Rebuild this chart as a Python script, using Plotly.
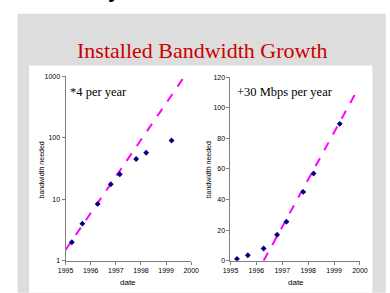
import plotly.graph_objects as go

W, H = 390, 293

dates = [1995.25, 1995.67, 1996.28, 1996.8, 1997.16, 1997.81, 1998.21, 1999.22]
bw_left = [2, 4, 8.4, 17.5, 25.5, 45, 57, 90]
bw_right = [1.2, 3.6, 8, 17, 25.5, 45, 57, 89.5]

fit_left_x = [1995, 1999.74]
fit_left_y = [1.5, 1000]
fit_right_x = [1996.28, 1999.96]
fit_right_y = [0, 113.5]

x_ticks = [1995, 1996, 1997, 1998, 1999, 2000]

def px(v):
    return v / W

def py(v):
    return 1 - v / H

fig = go.Figure()

mk = dict(symbol="diamond", size=4.5, color="#000080")
ln = dict(color="#FF00FF", width=2, dash="dash")

fig.add_trace(go.Scatter(x=fit_left_x, y=fit_left_y, mode="lines", line=ln, xaxis="x", yaxis="y", showlegend=False))
fig.add_trace(go.Scatter(x=dates, y=bw_left, mode="markers", marker=mk, xaxis="x", yaxis="y", showlegend=False))
fig.add_trace(go.Scatter(x=fit_right_x, y=fit_right_y, mode="lines", line=ln, xaxis="x2", yaxis="y2", showlegend=False, cliponaxis=False))
fig.add_trace(go.Scatter(x=dates, y=bw_right, mode="markers", marker=mk, xaxis="x2", yaxis="y2", showlegend=False))

tickfont = dict(family="Liberation Sans, Arial", size=7, color="#000000")
axcommon = dict(showline=True, linecolor="#808080", linewidth=1, ticks="outside",
                ticklen=3, tickcolor="#808080", showgrid=False, zeroline=False,
                tickfont=tickfont)

fig.update_layout(
    width=W, height=H,
    margin=dict(l=0, r=0, t=0, b=0),
    paper_bgcolor="white", plot_bgcolor="rgba(0,0,0,0)",
    hovermode=False,
    xaxis=dict(domain=[px(60), px(191)], range=[1995, 2000], tickvals=x_ticks, anchor="y", **axcommon),
    yaxis=dict(domain=[py(263), py(74)], type="log", range=[0, 3], tickvals=[1, 10, 100, 1000],
               ticktext=["1", "10", "100", "1000"], anchor="x", **axcommon),
    xaxis2=dict(domain=[px(232), px(367)], range=[1995, 2000], tickvals=x_ticks, anchor="y2", **axcommon),
    yaxis2=dict(domain=[py(263), py(75)], range=[0, 120], dtick=20, anchor="x2", **axcommon),
    shapes=[
        dict(type="rect", xref="paper", yref="paper", x0=px(10), x1=1.01, y0=-0.01, y1=py(10),
             fillcolor="#DDDDDD", line=dict(width=0), layer="below"),
        dict(type="rect", xref="paper", yref="paper", x0=px(22), x1=px(380), y0=-0.01, y1=py(63),
             fillcolor="#FFFFFF", line=dict(width=0), layer="below"),
    ],
)

serif = "Liberation Serif, Times New Roman"
sans = "Liberation Sans, Arial"
ann = []
ann.append(dict(text="Installed Bandwidth Growth", x=px(203), y=py(48), xref="paper", yref="paper",
                xanchor="center", yanchor="middle",
                showarrow=False, font=dict(family=serif, size=22, color="#CC0000")))
ann.append(dict(text="<b>y</b>", x=px(111), y=py(-0.5), xref="paper", yref="paper", xanchor="center", yanchor="bottom",
                showarrow=False, font=dict(family=sans, size=22, color="#000000")))
ann.append(dict(text="*4 per year", x=px(63), y=py(90), xref="paper", yref="paper", xanchor="left", yanchor="middle",
                showarrow=False, font=dict(family=serif, size=12.5, color="#000000")))
ann.append(dict(text="+30 Mbps per year", x=px(237), y=py(90), xref="paper", yref="paper", xanchor="left", yanchor="middle",
                showarrow=False, font=dict(family=serif, size=12.5, color="#000000")))
for xc in (35, 210):
    ann.append(dict(text="bandwidth needed", x=px(xc), y=py(170), xref="paper", yref="paper", textangle=-90,
                    xanchor="center", yanchor="middle",
                    showarrow=False, font=dict(family=sans, size=7, color="#000000")))
for xc in (125, 300):
    ann.append(dict(text="date", x=px(xc), y=py(285), xref="paper", yref="paper",
                    xanchor="center", yanchor="middle",
                    showarrow=False, font=dict(family=sans, size=8, color="#000000")))
fig.update_layout(annotations=ann)

fig.write_html("out.html", config={"displayModeBar": False},
               post_script="document.body.style.margin='0';document.body.style.overflow='hidden';")
